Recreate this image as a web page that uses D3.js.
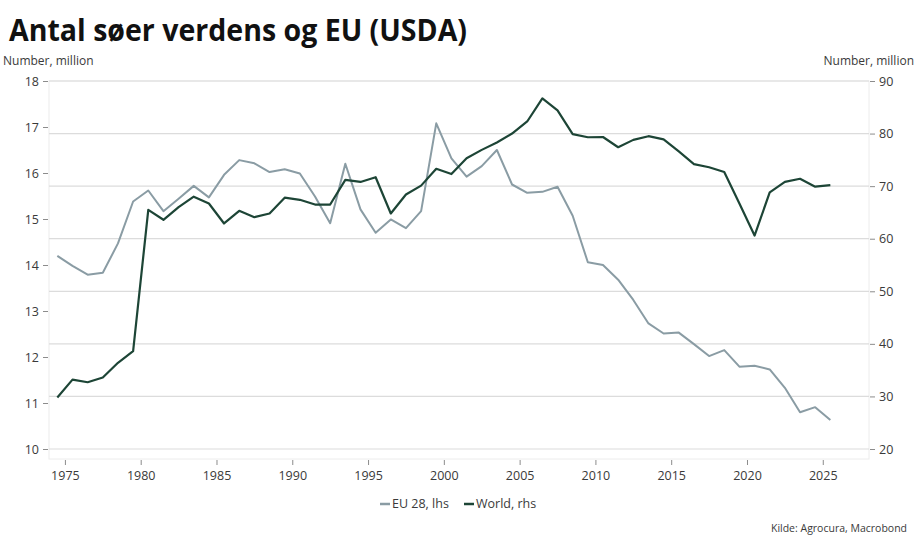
<!DOCTYPE html>
<html>
<head>
<meta charset="utf-8">
<script src="https://cdn.jsdelivr.net/npm/d3@7"></script>
<style>
  body { margin: 0; background: #fff; }
</style>
</head>
<body>
<div id="chart"></div>
<script>
// Chart size
const width = 917;
const height = 547;

// Data, one value per year
const years = d3.range(1974, 2026);
const euValues = [14.2, 13.98, 13.79, 13.83, 14.47, 15.38, 15.62, 15.17, 15.44, 15.72,
  15.47, 15.96, 16.28, 16.21, 16.02, 16.08, 15.99, 15.49, 14.91, 16.2,
  15.21, 14.7, 14.99, 14.8, 15.17, 17.08, 16.32, 15.92, 16.15, 16.5,
  15.75, 15.57, 15.59, 15.7, 15.07, 14.06, 14.0, 13.68, 13.24, 12.73,
  12.51, 12.53, 12.28, 12.02, 12.15, 11.79, 11.81, 11.73, 11.33, 10.8,
  10.91, 10.63];
const worldValues = [29.8, 33.2, 32.7, 33.6, 36.4, 38.6, 65.5, 63.6, 66.0, 68.0,
  66.7, 62.9, 65.3, 64.1, 64.8, 67.8, 67.4, 66.5, 66.5, 71.2,
  70.8, 71.7, 64.8, 68.4, 70.1, 73.3, 72.3, 75.3, 76.9, 78.3,
  80.0, 82.3, 86.7, 84.4, 79.9, 79.3, 79.35, 77.4, 78.8, 79.5,
  78.9, 76.6, 74.2, 73.6, 72.7, 66.7, 60.6, 68.8, 70.8, 71.4,
  69.9, 70.2];
const xTicks = d3.range(1975, 2030, 5);
const leftTicks = d3.range(10, 19, 1);
const rightTicks = d3.range(20, 100, 10);
const seriesNames = ["EU 28, lhs", "World, rhs"];

// Colours
const euColor = "#8a9ca4";
const worldColor = "#1d4536";
const gridColor = "#dcdcdc";
const textColor = "#3a3a3a";
const font = "'Open Sans', sans-serif";

// Plot area
const plot = { left: 49, right: 869, top: 81, bottom: 449, frameBottom: 459 };

const svg = d3.select("#chart")
  .append("svg")
  .attr("width", width)
  .attr("height", height)
  .style("font-family", font);

// Scales
const x = d3.scaleLinear().domain([1973.95, 2028.05]).range([plot.left, plot.right]);
const yLeft = d3.scaleLinear().domain([10, 18]).range([plot.bottom, plot.top]);
const yRight = d3.scaleLinear().domain([20, 90]).range([plot.bottom, plot.top]);

// Title, squeezed to the reference width
svg.append("text")
  .attr("x", 9)
  .attr("y", 41)
  .attr("textLength", 458)
  .attr("lengthAdjust", "spacingAndGlyphs")
  .style("font-size", "31px")
  .style("font-weight", "700")
  .style("fill", "#111")
  .text("Antal søer verdens og EU (USDA)");

// Axis unit labels
svg.append("text")
  .attr("x", 3).attr("y", 65)
  .style("font-size", "12px").style("fill", textColor)
  .text("Number, million");
svg.append("text")
  .attr("x", 914).attr("y", 65)
  .attr("text-anchor", "end")
  .style("font-size", "12px").style("fill", textColor)
  .text("Number, million");

// Light frame around the plot
svg.append("rect")
  .attr("x", plot.left)
  .attr("y", plot.top)
  .attr("width", plot.right - plot.left)
  .attr("height", plot.frameBottom - plot.top)
  .attr("fill", "none")
  .attr("stroke", "#ececec");

// Grid lines follow the right axis
svg.append("g")
  .selectAll("line")
  .data(rightTicks)
  .join("line")
  .attr("x1", plot.left)
  .attr("x2", plot.right)
  .attr("y1", d => yRight(d))
  .attr("y2", d => yRight(d))
  .attr("stroke", gridColor)
  .attr("stroke-width", 1.2);

// Left axis
const leftAxis = svg.append("g")
  .attr("transform", `translate(${plot.left - 1},0)`)
  .call(d3.axisLeft(yLeft).tickValues(leftTicks).tickSize(5).tickPadding(4));

// Right axis
const rightAxis = svg.append("g")
  .attr("transform", `translate(${plot.right + 1},0)`)
  .call(d3.axisRight(yRight).tickValues(rightTicks).tickSize(5).tickPadding(4));

// Bottom axis
const bottomAxis = svg.append("g")
  .attr("transform", `translate(0,${plot.frameBottom + 1})`)
  .call(d3.axisBottom(x).tickValues(xTicks).tickFormat(d3.format("d")).tickSize(5).tickPadding(6));

[leftAxis, rightAxis, bottomAxis].forEach(g => {
  g.select(".domain").remove();
  g.selectAll(".tick line").attr("stroke", "#8c8c8c");
  g.selectAll(".tick text")
    .style("font-family", font)
    .style("font-size", "12.5px")
    .style("fill", textColor);
});

// Lines
const euLine = d3.line()
  .x((d, i) => x(years[i] + 0.5))
  .y(d => yLeft(d));
const worldLine = d3.line()
  .x((d, i) => x(years[i] + 0.5))
  .y(d => yRight(d));

svg.append("path")
  .datum(euValues)
  .attr("fill", "none")
  .attr("stroke", euColor)
  .attr("stroke-width", 2)
  .attr("stroke-linejoin", "round")
  .attr("d", euLine);

svg.append("path")
  .datum(worldValues)
  .attr("fill", "none")
  .attr("stroke", worldColor)
  .attr("stroke-width", 2.2)
  .attr("stroke-linejoin", "round")
  .attr("d", worldLine);

// Legend
const legend = svg.append("g").attr("transform", "translate(380,508)");
const legendItems = [
  { name: seriesNames[0], color: euColor, x: 0 },
  { name: seriesNames[1], color: worldColor, x: 84 }
];
legendItems.forEach(item => {
  legend.append("line")
    .attr("x1", item.x).attr("x2", item.x + 10)
    .attr("y1", -4).attr("y2", -4)
    .attr("stroke", item.color)
    .attr("stroke-width", 2.5);
  legend.append("text")
    .attr("x", item.x + 12)
    .attr("y", 0)
    .style("font-size", "12.5px")
    .style("fill", textColor)
    .text(item.name);
});

// Source
svg.append("text")
  .attr("x", 907).attr("y", 532)
  .attr("text-anchor", "end")
  .style("font-size", "10.5px")
  .style("fill", textColor)
  .text("Kilde: Agrocura, Macrobond");
</script>
</body>
</html>
